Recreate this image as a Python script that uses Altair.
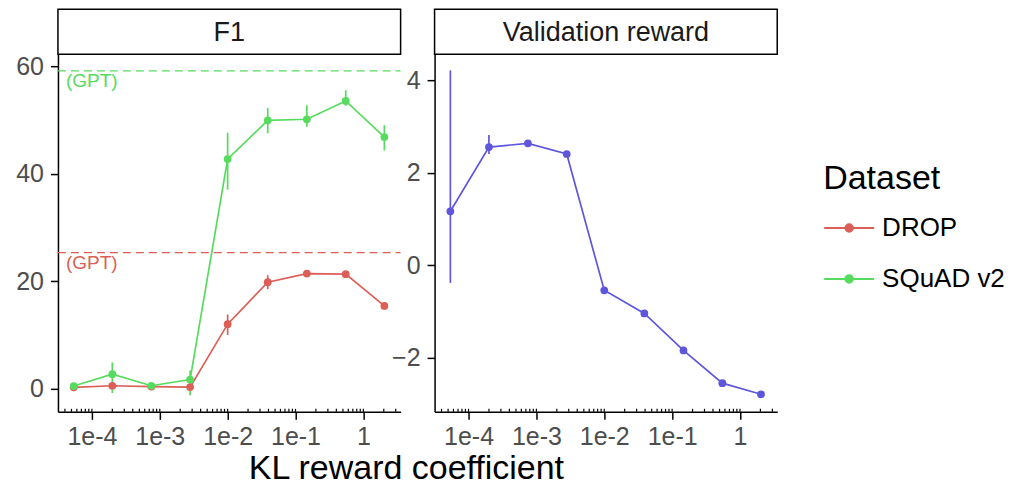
import altair as alt
import pandas as pd

# ---- data ----
kl = [5.4e-5, 2.0e-4, 7.5e-4, 2.8e-3, 1.0e-2, 3.9e-2, 0.147, 0.55, 2.04]

drop_f1 = [0.25, 0.55, 0.4, 0.3, 12.0, 19.8, 21.4, 21.3, 15.4]
drop_lo = [0.0, 0.2, 0.2, 0.1, 10.0, 18.5, 21.0, 20.9, 15.0]
drop_hi = [0.5, 0.9, 0.6, 0.5, 13.8, 21.1, 21.8, 21.7, 15.8]

squad_f1 = [0.5, 2.7, 0.55, 1.7, 42.7, 49.9, 50.1, 53.5, 46.8]
squad_lo = [0.1, -0.8, 0.2, -1.2, 37.0, 47.5, 48.7, 52.6, 44.3]
squad_hi = [0.9, 4.9, 0.9, 3.4, 47.6, 52.2, 52.7, 55.5, 49.0]

reward = [1.17, 2.56, 2.64, 2.41, -0.54, -1.04, -1.84, -2.55, -2.79]
reward_lo = [-0.38, 2.41, 2.58, 2.35, -0.60, -1.10, -1.90, -2.61, -2.85]
reward_hi = [4.22, 2.82, 2.70, 2.47, -0.48, -0.98, -1.78, -2.49, -2.73]

datasets = ["DROP", "SQuAD v2"]
gpt_f1 = [25.3, 59.1]
panels = ["F1", "Validation reward"]
x_ticks = [1e-4, 1e-3, 1e-2, 1e-1, 1]
f1_ticks = [0, 20, 40, 60]
reward_ticks = [-2, 0, 2, 4]

RED, GREEN, BLUE = "#DB5F57", "#57DB5F", "#5F57DB"

# ---- tables ----
f1_df = pd.DataFrame({
    "kl": kl + kl,
    "value": drop_f1 + squad_f1,
    "lo": drop_lo + squad_lo,
    "hi": drop_hi + squad_hi,
    "Dataset": [datasets[0]] * len(kl) + [datasets[1]] * len(kl),
})
gpt_df = pd.DataFrame({"Dataset": datasets, "gpt": gpt_f1, "label": ["(GPT)"] * 2})
rew_df = pd.DataFrame({"kl": kl, "value": reward, "lo": reward_lo, "hi": reward_hi})
minor_df = pd.DataFrame({"t": [m * 10.0 ** e for e in range(-5, 1) for m in range(1, 10)
                               if 3.2e-5 <= m * 10.0 ** e <= 3.5]})

W, H, STRIP = 343, 358, 45
XDOM = [3.16e-5, 3.54]

x_scale = alt.Scale(type="log", domain=XDOM, nice=False)
x_axis = alt.Axis(values=x_ticks, title=None, grid=False,
                  labelExpr="datum.value >= 1 ? '1' : '1e' + round(log(datum.value)/LN10)")
color_scale = alt.Scale(domain=datasets, range=[RED, GREEN])

LEG_SYMBOL = ("M-1,0H1"
              "M-0.15,0A0.15,0.15,0,1,0,0.15,0A0.15,0.15,0,1,0,-0.15,0Z"
              "M-0.09,0A0.09,0.09,0,1,0,0.09,0A0.09,0.09,0,1,0,-0.09,0Z"
              "M-0.03,0A0.03,0.03,0,1,0,0.03,0A0.03,0.03,0,1,0,-0.03,0Z")
legend = alt.Legend(title="Dataset", orient="none", legendX=766, legendY=108,
                    symbolType=LEG_SYMBOL, symbolSize=2500, symbolStrokeWidth=2,
                    titleFontSize=34, titleFontWeight="normal", titleColor="black",
                    labelFontSize=26, labelColor="black", labelOffset=7,
                    rowPadding=12, titlePadding=6)


def strip(name):
    sdf = pd.DataFrame({"panel": [name]})
    box = alt.Chart(sdf).mark_rect(fill="white", stroke="black", strokeWidth=1.5).encode(
        x=alt.value(0), x2=alt.value(W), y=alt.value(-STRIP), y2=alt.value(0))
    txt = alt.Chart(sdf).mark_text(fontSize=27, color="#1A1A1A", baseline="middle").encode(
        x=alt.value(W / 2), y=alt.value(-STRIP / 2 + 1), text="panel:N")
    return box + txt


def logticks():
    return alt.Chart(minor_df).mark_rule(color="black", strokeWidth=1.2).encode(
        x=alt.X("t:Q", scale=x_scale),
        y=alt.value(H), y2=alt.value(H - 3))


# ---- F1 panel ----
f1_y = alt.Scale(domain=[-4.3, 62.2], nice=False, zero=False)
f1_axis = alt.Axis(values=f1_ticks, title=None, grid=False)

base_f1 = alt.Chart(f1_df)
f1_err = base_f1.mark_rule(strokeWidth=1.7).encode(
    x=alt.X("kl:Q", scale=x_scale, axis=x_axis),
    y=alt.Y("lo:Q", scale=f1_y, axis=f1_axis), y2="hi:Q",
    color=alt.Color("Dataset:N", scale=color_scale, legend=legend))
f1_line = base_f1.mark_line(strokeWidth=1.7).encode(
    x=alt.X("kl:Q", scale=x_scale), y=alt.Y("value:Q", scale=f1_y),
    color=alt.Color("Dataset:N", scale=color_scale, legend=legend))
f1_pts = base_f1.mark_circle(size=60, opacity=1).encode(
    x=alt.X("kl:Q", scale=x_scale), y=alt.Y("value:Q", scale=f1_y),
    color=alt.Color("Dataset:N", scale=color_scale, legend=legend))
gpt_rule = alt.Chart(gpt_df).mark_rule(strokeDash=[8, 5], strokeWidth=1.3).encode(
    x=alt.value(0), x2=alt.value(W), y=alt.Y("gpt:Q", scale=f1_y),
    color=alt.Color("Dataset:N", scale=color_scale, legend=legend))
gpt_text = alt.Chart(gpt_df).mark_text(align="left", baseline="top", fontSize=19, dy=1).encode(
    x=alt.value(8), y=alt.Y("gpt:Q", scale=f1_y), text="label:N",
    color=alt.Color("Dataset:N", scale=color_scale, legend=legend))

left = alt.layer(f1_err, gpt_rule, gpt_text, f1_line, f1_pts, logticks(), strip(panels[0])
                 ).properties(width=W, height=H)

# ---- Validation reward panel ----
rw_y = alt.Scale(domain=[-3.17, 4.57], nice=False, zero=False)
rw_axis = alt.Axis(values=reward_ticks, title=None, grid=False)
base_rw = alt.Chart(rew_df)
rw_err = base_rw.mark_rule(strokeWidth=1.7, color=BLUE).encode(
    x=alt.X("kl:Q", scale=x_scale, axis=x_axis),
    y=alt.Y("lo:Q", scale=rw_y, axis=rw_axis), y2="hi:Q")
rw_line = base_rw.mark_line(strokeWidth=1.7, color=BLUE).encode(
    x=alt.X("kl:Q", scale=x_scale), y=alt.Y("value:Q", scale=rw_y))
rw_pts = base_rw.mark_circle(size=60, opacity=1, color=BLUE).encode(
    x=alt.X("kl:Q", scale=x_scale), y=alt.Y("value:Q", scale=rw_y))

right = alt.layer(rw_err, rw_line, rw_pts, logticks(), strip(panels[1])
                  ).properties(width=W, height=H)

chart = alt.hconcat(
    left, right, spacing=34, bounds="flush",
    title=alt.TitleParams("KL reward coefficient", orient="bottom", anchor="middle",
                          fontSize=34, fontWeight="normal", color="black", offset=3, dx=-104),
    padding={"left": 7, "top": 0, "right": 0, "bottom": -6},
).resolve_scale(y="independent").configure(
    font="Liberation Sans",
).configure_view(stroke=None).configure_axis(
    domainColor="black", domainWidth=1.5, tickColor="black", tickWidth=1.5, tickSize=7.5,
    labelColor="#4D4D4D", labelFontSize=25, labelFont="Liberation Sans",
).configure_axisY(labelPadding=7).configure_axisX(labelPadding=5)

chart.save("out.html", embed_options={"renderer": "svg", "actions": False})
